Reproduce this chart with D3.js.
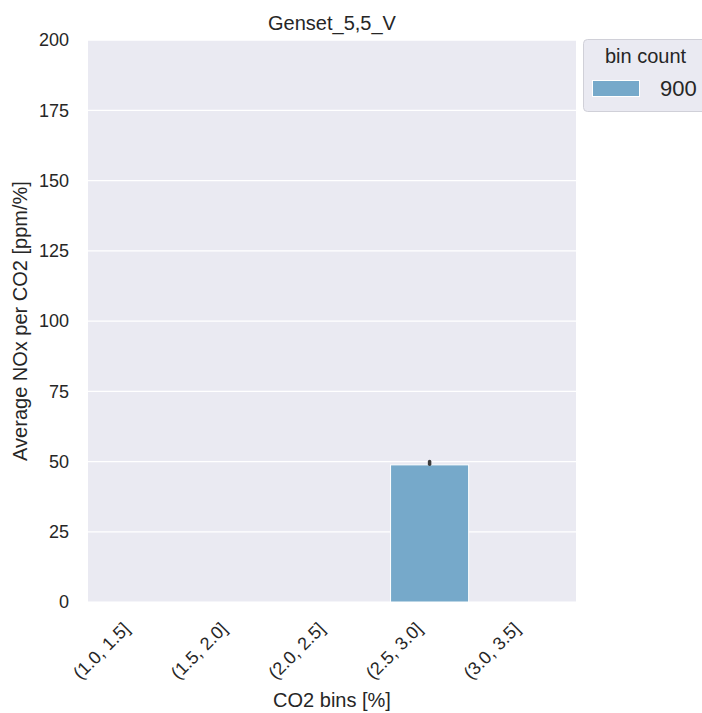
<!DOCTYPE html>
<html><head><meta charset="utf-8">
<script src="https://cdn.jsdelivr.net/npm/d3@7"></script>
<style>body{margin:0;background:#fff;} text{font-family:Arial,"Liberation Sans",sans-serif;fill:#262626;}</style>
</head><body>
<svg id="c" width="702" height="713"></svg>
<script>
const categories = ["(1.0, 1.5]","(1.5, 2.0]","(2.0, 2.5]","(2.5, 3.0]","(3.0, 3.5]"];
const values = [null, null, null, 48.8, null];
const errLow = [null, null, null, 49.0, null];
const errHigh = [null, null, null, 50.0, null];
const yTicks = [0,25,50,75,100,125,150,175,200];
const legendTitle = "bin count";
const legendLabels = ["900"];
const title = "Genset_5,5_V";
const xLabel = "CO2 bins [%]";
const yLabel = "Average NOx per CO2 [ppm/%]";

const svg = d3.select("#c");
const L=88,R=576,T=40,B=602;
const x = d3.scaleBand().domain(categories).range([L,R]).paddingInner(0).paddingOuter(0);
const y = d3.scaleLinear().domain([0,200]).range([B,T]);
const color = "#76a9ca";
const FF = "Arial,'Liberation Sans',sans-serif";

svg.append("rect").attr("x",L).attr("y",T).attr("width",R-L).attr("height",B-T).attr("fill","#eaeaf2");
svg.append("g").selectAll("line").data(yTicks).join("line")
  .attr("x1",L).attr("x2",R).attr("y1",d=>y(d)).attr("y2",d=>y(d))
  .attr("stroke","#fff").attr("stroke-width",1.25);

const bw = x.bandwidth()*0.8;
svg.append("g").selectAll("rect").data(categories.map((c,i)=>({c,v:values[i]})).filter(d=>d.v!=null)).join("rect")
  .attr("x",d=>x(d.c)+x.bandwidth()*0.1).attr("width",bw)
  .attr("y",d=>y(d.v)).attr("height",d=>y(0)-y(d.v))
  .attr("fill",color).attr("stroke","#fff").attr("stroke-width",1);

svg.append("g").selectAll("line").data(categories.map((c,i)=>({c,lo:errLow[i],hi:errHigh[i]})).filter(d=>d.lo!=null)).join("line")
  .attr("x1",d=>x(d.c)+x.bandwidth()/2).attr("x2",d=>x(d.c)+x.bandwidth()/2)
  .attr("y1",d=>y(d.lo)).attr("y2",d=>y(d.hi))
  .attr("stroke","#3d3d3d").attr("stroke-width",3.5).attr("stroke-linecap","round");

// y axis
const ya = svg.append("g").attr("transform",`translate(${L},0)`).call(d3.axisLeft(y).tickValues(yTicks).tickSize(0).tickPadding(19));
ya.select(".domain").remove();
ya.selectAll("text").attr("font-size",18).attr("fill","#262626").style("font-family",FF);

// x axis
const xa = svg.append("g").attr("transform",`translate(0,${B})`).call(d3.axisBottom(x).tickSize(0));
xa.select(".domain").remove();
xa.selectAll("text").attr("font-size",18).attr("fill","#262626").style("font-family",FF)
  .attr("text-anchor","end").attr("dy",null).attr("y",0)
  .attr("transform","translate(-6,28) rotate(-45)");

svg.append("text").attr("x",(L+R)/2).attr("y",30).attr("text-anchor","middle").attr("font-size",20).text(title);
svg.append("text").attr("x",(L+R)/2).attr("y",707).attr("text-anchor","middle").attr("font-size",20).text(xLabel);
svg.append("text").attr("transform",`translate(27,${(T+B)/2}) rotate(-90)`).attr("text-anchor","middle").attr("font-size",20).text(yLabel);

// legend
const lg = svg.append("g");
lg.append("rect").attr("x",583.5).attr("y",39.5).attr("width",130).attr("height",72).attr("rx",4)
  .attr("fill","#eaeaf2").attr("stroke","#d0d0d8").attr("stroke-width",1);
lg.append("text").attr("x",645.5).attr("y",63).attr("text-anchor","middle").attr("font-size",20).text(legendTitle);
legendLabels.forEach((l,i)=>{
  lg.append("rect").attr("x",592.5).attr("y",80.5+i*24).attr("width",47).attr("height",16).attr("fill",color).attr("stroke","#fff");
  lg.append("text").attr("x",660).attr("y",96+i*24).attr("font-size",22).text(l);
});
</script>
</body></html>
